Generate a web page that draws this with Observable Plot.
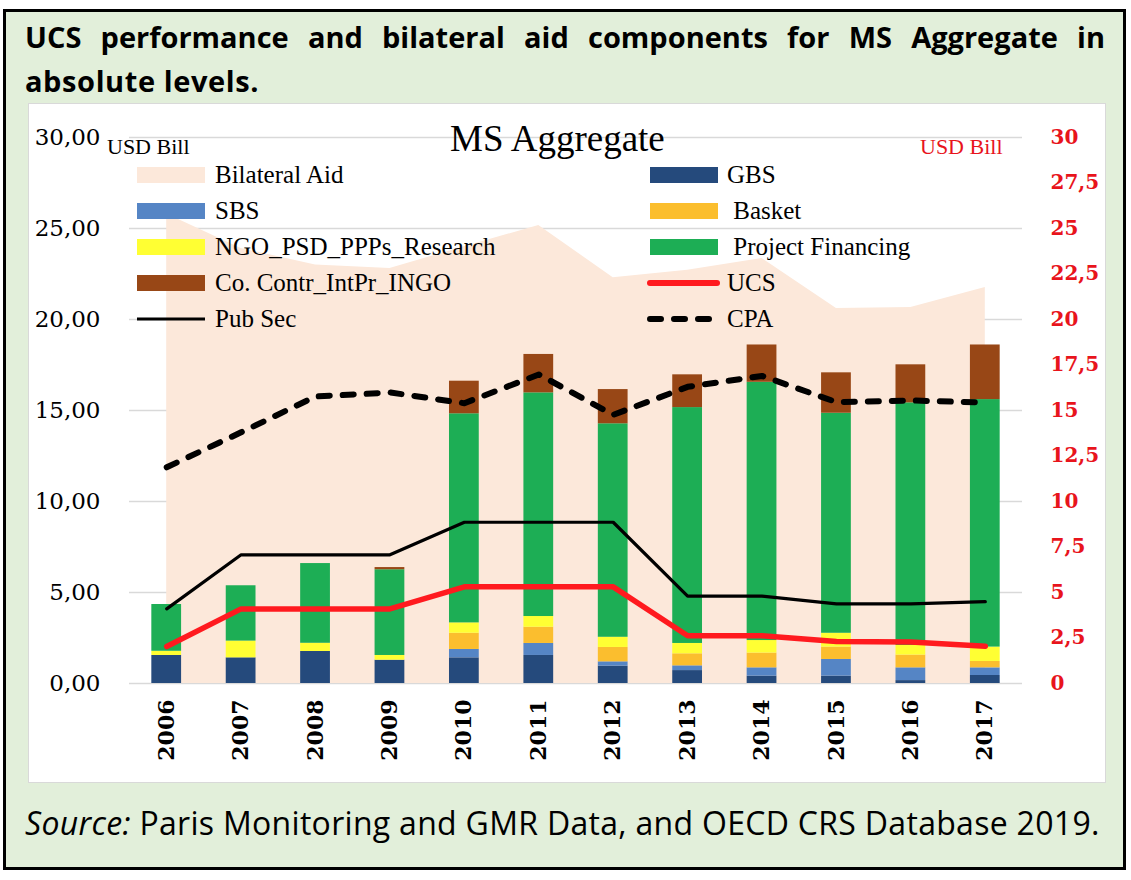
<!DOCTYPE html>
<html>
<head>
<meta charset="utf-8">
<script src="https://cdn.jsdelivr.net/npm/d3@7"></script>
<script src="https://cdn.jsdelivr.net/npm/@observablehq/plot@0.6"></script>
<style>
  html, body { margin: 0; padding: 0; background: #ffffff; }
  body { position: relative; width: 1131px; height: 880px; overflow: hidden; }
  #frame { position: absolute; left: 3px; top: 9px; width: 1117px; height: 855px; border: 3px solid #000; background: #E2EFDA; }
  .title { position: absolute; left: 25px; width: 1080px; font-family: "Open Sans", sans-serif; font-weight: 700; font-size: 29px; letter-spacing: 0.6px; line-height: 40px; color: #000; white-space: nowrap; }
  #t1 { top: 17px; text-align: justify; text-align-last: justify; white-space: normal; letter-spacing: 0; }
  #t2 { top: 61px; }
  #panel { position: absolute; left: 28px; top: 103px; width: 1078px; height: 680px; background: #fff; box-sizing: border-box; border: 1px solid #D9D9D9; }
  #chart { position: absolute; left: 28px; top: 103px; }
  #source { position: absolute; left: 25px; top: 803px; font-family: "Open Sans", sans-serif; font-size: 32px; letter-spacing: 0.3px; line-height: 40px; color: #000; white-space: nowrap; }
  .lab { position: absolute; font-family: "Liberation Serif", serif; white-space: nowrap; line-height: 1; }
  .leg { position: absolute; height: 36px; display: flex; align-items: center; }
  .leg span { font-family: "Liberation Serif", serif; font-size: 25px; color: #000; white-space: pre; }
</style>
</head>
<body>
<div id="frame"></div>
<div class="title" id="t1">UCS performance and bilateral aid components for MS Aggregate in</div>
<div class="title" id="t2">absolute levels.</div>
<div id="panel"></div>
<div id="chart"></div>
<div id="source"><i>Source:</i> Paris Monitoring and GMR Data, and OECD CRS Database 2019.</div>
<script>
// ---- Data (USD billions) ----
const years = [2006, 2007, 2008, 2009, 2010, 2011, 2012, 2013, 2014, 2015, 2016, 2017];
const bilateralAid = [25.8, 23.9, 23.0, 22.8, 24.0, 25.16, 22.3, 22.7, 23.35, 20.6, 20.66, 21.76];
const gbs       = [1.54, 1.41, 1.76, 1.28, 1.41, 1.54, 0.95, 0.71, 0.40, 0.40, 0.16, 0.44];
const sbs       = [0, 0, 0, 0, 0.46, 0.66, 0.24, 0.26, 0.46, 0.92, 0.70, 0.42];
const basket    = [0, 0, 0, 0, 0.89, 0.89, 0.79, 0.66, 0.81, 0.68, 0.70, 0.35];
const ngoPsd    = [0.23, 0.92, 0.45, 0.26, 0.57, 0.59, 0.56, 0.57, 0.69, 0.76, 0.53, 0.79];
const projectFinancing = [2.57, 3.04, 4.38, 4.71, 11.49, 12.29, 11.73, 12.96, 14.19, 12.09, 13.33, 13.60];
const coContr   = [0, 0, 0, 0.12, 1.79, 2.11, 1.88, 1.80, 2.05, 2.22, 2.09, 3.00];
const ucs       = [2.03, 4.1, 4.1, 4.1, 5.31, 5.31, 5.31, 2.62, 2.62, 2.31, 2.28, 2.05];
const pubSec    = [4.1, 7.07, 7.07, 7.07, 8.86, 8.86, 8.86, 4.8, 4.8, 4.38, 4.38, 4.5];
const cpa       = [11.88, 13.8, 15.77, 15.99, 15.4, 16.98, 14.76, 16.3, 16.9, 15.46, 15.55, 15.44];

const leftTicks  = [0, 5, 10, 15, 20, 25, 30];
const rightTicks = [0, 2.5, 5, 7.5, 10, 12.5, 15, 17.5, 20, 22.5, 25, 27.5, 30];

const componentNames = ["GBS", "SBS", "Basket", "NGO_PSD_PPPs_Research", "Project Financing", "Co. Contr_IntPr_INGO"];
const componentValues = [gbs, sbs, basket, ngoPsd, projectFinancing, coContr];
const componentColors = ["#254A7C", "#5585C5", "#FBBE2E", "#FFFF33", "#1DAE55", "#984716"];
const areaColor = "#FCE8DA";
const ucsColor = "#FF1A1F";
const redText = "#E8141C";

// ---- Tables ----
const rows = years.map((year, i) => ({year, bilateral: bilateralAid[i], ucs: ucs[i], pubSec: pubSec[i], cpa: cpa[i]}));
const stacked = [];
years.forEach((year, i) => {
  let base = 0;
  componentNames.forEach((name, k) => {
    const v = componentValues[k][i];
    stacked.push({year, component: name, y1: base, y2: base + v});
    base += v;
  });
});
const halfBar = 0.2;

const fmtLeft = d => d.toFixed(2).replace(".", ",");
const fmtRight = d => String(d).replace(".", ",");

const chart = Plot.plot({
  width: 1078,
  height: 680,
  marginLeft: 101,
  marginRight: 84,
  marginTop: 34,
  marginBottom: 100,
  x: {type: "linear", domain: [2005.5, 2017.5], axis: null},
  y: {domain: [0, 30], axis: null},
  color: {domain: componentNames, range: componentColors},
  style: {background: "transparent", overflow: "visible"},
  marks: [
    Plot.ruleY(leftTicks, {stroke: "#D9D9D9", strokeWidth: 1.5}),
    Plot.areaY(rows, {x: "year", y: "bilateral", fill: areaColor}),
    Plot.rect(stacked, {x1: d => d.year - halfBar, x2: d => d.year + halfBar, y1: "y1", y2: "y2", fill: "component"}),
    Plot.line(rows, {x: "year", y: "pubSec", stroke: "#000", strokeWidth: 3.2}),
    Plot.line(rows, {x: "year", y: "ucs", stroke: ucsColor, strokeWidth: 5.5}),
    Plot.line(rows, {x: "year", y: "cpa", stroke: "#000", strokeWidth: 6, strokeDasharray: "11,13", strokeLinecap: "round"}),
    Plot.axisY(leftTicks, {anchor: "left", tickSize: 0, tickPadding: 29, tickFormat: fmtLeft, fontSize: 23, fontFamily: "DejaVu Serif", label: null, color: "#000"}),
    Plot.axisY(rightTicks, {anchor: "right", tickSize: 0, tickPadding: 28, tickFormat: fmtRight, fontSize: 20, fontWeight: "bold", fontFamily: "DejaVu Serif", label: null, color: redText}),
    Plot.axisX(years, {anchor: "bottom", tickSize: 0, tickPadding: 16, tickRotate: -90, tickFormat: d => String(d), fontSize: 22, fontWeight: "bold", fontFamily: "DejaVu Serif", label: null, color: "#000"})
  ]
});
document.getElementById("chart").appendChild(chart);

// ---- Overlay texts ----
function addLabel(text, left, baseline, size, color, extra) {
  const el = document.createElement("div");
  el.className = "lab";
  el.textContent = text;
  el.style.left = left + "px";
  el.style.top = (baseline - size * 0.891) + "px";
  el.style.fontSize = size + "px";
  el.style.color = color;
  if (extra) Object.assign(el.style, extra);
  document.body.appendChild(el);
}
addLabel("MS Aggregate", 450, 153, 37, "#000");
addLabel("USD Bill", 107, 156, 22, "#000");
addLabel("USD Bill", 920, 156, 22, redText);

// ---- Legend ----
const legendItems = [
  {label: "Bilateral Aid", kind: "rect", color: areaColor, col: 0, row: 0},
  {label: "GBS", kind: "rect", color: componentColors[0], col: 1, row: 0},
  {label: "SBS", kind: "rect", color: componentColors[1], col: 0, row: 1},
  {label: " Basket", kind: "rect", color: componentColors[2], col: 1, row: 1},
  {label: "NGO_PSD_PPPs_Research", kind: "rect", color: componentColors[3], col: 0, row: 2},
  {label: " Project Financing", kind: "rect", color: componentColors[4], col: 1, row: 2},
  {label: "Co. Contr_IntPr_INGO", kind: "rect", color: componentColors[5], col: 0, row: 3},
  {label: "UCS", kind: "line", color: ucsColor, width: 6, col: 1, row: 3},
  {label: "Pub Sec", kind: "line", color: "#000", width: 3.2, col: 0, row: 4},
  {label: "CPA", kind: "dash", color: "#000", width: 6, col: 1, row: 4}
];
const colX = [137, 647];
const rowY = [175, 211, 247, 283, 319];
const ns = "http://www.w3.org/2000/svg";
legendItems.forEach(it => {
  const div = document.createElement("div");
  div.className = "leg";
  div.style.left = colX[it.col] + "px";
  div.style.top = (rowY[it.row] - 18) + "px";
  const svg = document.createElementNS(ns, "svg");
  svg.setAttribute("width", 78);
  svg.setAttribute("height", 36);
  if (it.kind === "rect") {
    const r = document.createElementNS(ns, "rect");
    r.setAttribute("x", it.col === 1 ? 3 : 0);
    r.setAttribute("y", 10);
    r.setAttribute("width", 68);
    r.setAttribute("height", 16);
    r.setAttribute("fill", it.color);
    svg.appendChild(r);
  } else {
    const l = document.createElementNS(ns, "line");
    const x1 = it.col === 1 ? 3 : 0, x2 = it.col === 1 ? 70 : 68;
    l.setAttribute("x1", x1); l.setAttribute("x2", x2);
    l.setAttribute("y1", 18); l.setAttribute("y2", 18);
    l.setAttribute("stroke", it.color);
    l.setAttribute("stroke-width", it.width);
    if (it.kind !== "line" || it.col === 1) l.setAttribute("stroke-linecap", "round");
    if (it.kind === "dash") l.setAttribute("stroke-dasharray", "11,13");
    svg.appendChild(l);
  }
  div.appendChild(svg);
  const sp = document.createElement("span");
  sp.textContent = it.label;
  sp.style.marginLeft = (it.col === 1 ? 2 : 0) + "px";
  div.appendChild(sp);
  document.body.appendChild(div);
});
</script>
</body>
</html>
